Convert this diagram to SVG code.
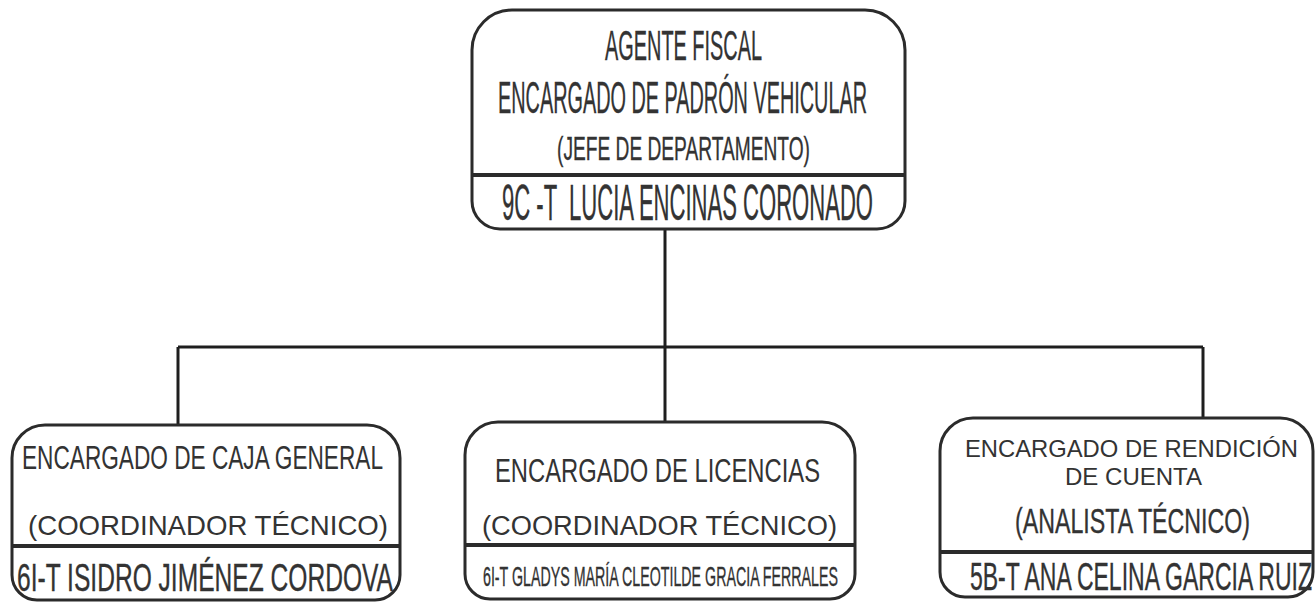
<svg xmlns="http://www.w3.org/2000/svg" width="1316" height="602" viewBox="0 0 1316 602">
<style>
.box{fill:#fff;stroke:#2b2b2b;stroke-width:3}
.div{stroke:#2b2b2b;stroke-width:4}
.con{stroke:#1e1e1e;stroke-width:3;fill:none}
text{font-family:"Liberation Sans",Arial,sans-serif;fill:#333;text-anchor:start}
.nar{stroke:#333;stroke-width:0.35}
</style>
<rect width="1316" height="602" fill="#fff"/>
<g id="connectors">
<path class="con" d="M665,229 V347 M178,347 H1203 M178,347 V425 M665,347 V422 M1203,347 V418"/>
</g>
<g id="node-top">
<path class="box" d="M512,10 H865 A40,40 0 0 1 905,50 V201 A28,28 0 0 1 877,229 H500 A28,28 0 0 1 472,201 V50 A40,40 0 0 1 512,10 Z"/>
<line class="div" x1="472" y1="175" x2="905" y2="175"/>
<text class="nar" x="605" y="60" font-size="42" textLength="157" lengthAdjust="spacingAndGlyphs">AGENTE FISCAL</text>
<text class="nar" x="498" y="113" font-size="44" textLength="369" lengthAdjust="spacingAndGlyphs">ENCARGADO DE PADRÓN VEHICULAR</text>
<text class="nar" x="557" y="160" font-size="33" textLength="253" lengthAdjust="spacingAndGlyphs">(JEFE DE DEPARTAMENTO)</text>
<text class="nar" x="502" y="220" font-size="50" textLength="371" lengthAdjust="spacingAndGlyphs" xml:space="preserve">9C -T  LUCIA ENCINAS CORONADO</text>
</g>
<g id="node-caja">
<path class="box" d="M45,425 H367 A33,33 0 0 1 400,458 V575 A25,25 0 0 1 375,600 H37 A25,25 0 0 1 12,575 V458 A33,33 0 0 1 45,425 Z"/>
<line class="div" x1="12" y1="546" x2="400" y2="546"/>
<text x="22" y="469" font-size="34" textLength="361" lengthAdjust="spacingAndGlyphs">ENCARGADO DE CAJA GENERAL</text>
<text x="28" y="535" font-size="28" textLength="360" lengthAdjust="spacingAndGlyphs">(COORDINADOR TÉCNICO)</text>
<text class="nar" x="17" y="591" font-size="38" textLength="376" lengthAdjust="spacingAndGlyphs">6I-T ISIDRO JIMÉNEZ CORDOVA</text>
</g>
<g id="node-licencias">
<path class="box" d="M498,422 H822 A33,33 0 0 1 855,455 V574 A25,25 0 0 1 830,599 H490 A25,25 0 0 1 465,574 V455 A33,33 0 0 1 498,422 Z"/>
<line class="div" x1="465" y1="545" x2="855" y2="545"/>
<text x="495" y="482" font-size="34" textLength="325" lengthAdjust="spacingAndGlyphs">ENCARGADO DE LICENCIAS</text>
<text x="482" y="535" font-size="27" textLength="355" lengthAdjust="spacingAndGlyphs">(COORDINADOR TÉCNICO)</text>
<text class="nar" x="483" y="586" font-size="28" textLength="355" lengthAdjust="spacingAndGlyphs">6I-T GLADYS MARÍA CLEOTILDE GRACIA FERRALES</text>
</g>
<g id="node-rendicion">
<path class="box" d="M973,418 H1280 A33,33 0 0 1 1313,451 V572 A25,25 0 0 1 1288,597 H965 A25,25 0 0 1 940,572 V451 A33,33 0 0 1 973,418 Z"/>
<line class="div" x1="940" y1="552" x2="1313" y2="552"/>
<text x="965" y="457" font-size="24" textLength="333" lengthAdjust="spacingAndGlyphs">ENCARGADO DE RENDICIÓN</text>
<text x="1065" y="485" font-size="24" textLength="137" lengthAdjust="spacingAndGlyphs">DE CUENTA</text>
<text class="nar" x="1015" y="533" font-size="35" textLength="235" lengthAdjust="spacingAndGlyphs">(ANALISTA TÉCNICO)</text>
<text class="nar" x="970" y="590" font-size="38" textLength="342" lengthAdjust="spacingAndGlyphs">5B-T ANA CELINA GARCIA RUIZ</text>
</g>
</svg>
